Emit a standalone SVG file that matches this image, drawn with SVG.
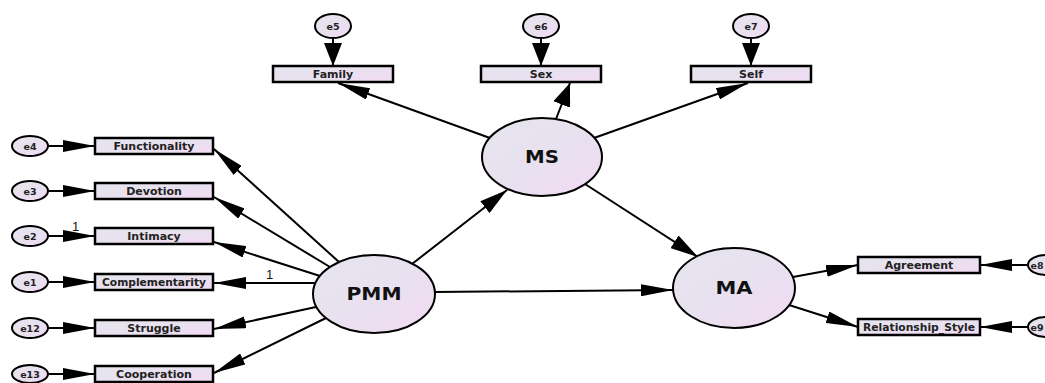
<svg xmlns="http://www.w3.org/2000/svg" width="1045" height="383" viewBox="0 0 1045 383">
<defs>
<linearGradient id="fill" x1="0" y1="0" x2="1" y2="1">
<stop offset="0" stop-color="#e5e5ee"/>
<stop offset="0.5" stop-color="#e8e1ef"/>
<stop offset="1" stop-color="#f2daf3"/>
</linearGradient>
<marker id="mh" markerUnits="userSpaceOnUse" markerWidth="32" markerHeight="12" refX="32" refY="6" orient="auto"><path d="M0,0 L32,6 L0,12 z" fill="#000"/></marker>
<marker id="md" markerUnits="userSpaceOnUse" markerWidth="28" markerHeight="15" refX="28" refY="7.5" orient="auto"><path d="M0,0 L28,7.5 L0,15 z" fill="#000"/></marker>
<marker id="mv" markerUnits="userSpaceOnUse" markerWidth="23" markerHeight="18" refX="23" refY="9" orient="auto"><path d="M0,0 L23,9 L0,18 z" fill="#000"/></marker>
<style>
.box{fill:url(#fill);stroke:#000;stroke-width:2.5}
.lat{fill:url(#fill);stroke:#000;stroke-width:2}
.err{fill:url(#fill);stroke:#000;stroke-width:2}
.bt{font-family:"DejaVu Sans",sans-serif;font-weight:bold;font-size:11px;text-anchor:middle;fill:#222}
.lt{font-family:"DejaVu Sans",sans-serif;font-weight:bold;font-size:17px;text-anchor:middle;fill:#111}
.et{font-family:"DejaVu Sans",sans-serif;font-weight:bold;font-size:9.5px;text-anchor:middle;fill:#222}
.one{font-family:"Liberation Sans",Arial,sans-serif;font-size:13px;fill:#111}
.c{stroke:#000;stroke-width:2;fill:none}
.ch{marker-end:url(#mh)}
.cd{marker-end:url(#md)}
.cv{marker-end:url(#mv)}
</style>
</defs>

<g id="connectors">
<line class="c ch" x1="48" y1="146" x2="95" y2="146"/>
<line class="c ch" x1="48" y1="191" x2="95" y2="191"/>
<line class="c ch" x1="48" y1="236" x2="95" y2="236"/>
<line class="c ch" x1="48" y1="282" x2="95" y2="282"/>
<line class="c ch" x1="48" y1="328" x2="95" y2="328"/>
<line class="c ch" x1="48" y1="374" x2="95" y2="374"/>
<line class="c cv" x1="333" y1="38" x2="333" y2="66"/>
<line class="c cv" x1="541" y1="38" x2="541" y2="66"/>
<line class="c cv" x1="751" y1="38" x2="751" y2="66"/>
<line class="c ch" x1="1028" y1="265" x2="980" y2="265"/>
<line class="c ch" x1="1028" y1="327" x2="980" y2="327"/>
<line class="c ch" x1="339" y1="262" x2="214" y2="149"/>
<line class="c ch" x1="330" y1="267" x2="214" y2="197"/>
<line class="c ch" x1="320" y1="276" x2="214" y2="242"/>
<line class="c ch" x1="316" y1="283" x2="214" y2="283"/>
<line class="c ch" x1="316" y1="307" x2="214" y2="329"/>
<line class="c ch" x1="326" y1="318" x2="214" y2="373"/>
<line class="c cd" x1="412" y1="264" x2="507" y2="190"/>
<line class="c ch" x1="435" y1="292" x2="673" y2="290"/>
<line class="c ch" x1="490" y1="138" x2="338" y2="83"/>
<line class="c cv" x1="556" y1="119" x2="570" y2="83"/>
<line class="c ch" x1="594" y1="138" x2="748" y2="83"/>
<line class="c cd" x1="585" y1="184" x2="698" y2="257"/>
<line class="c ch" x1="793" y1="277" x2="858" y2="265"/>
<line class="c ch" x1="789" y1="305" x2="858" y2="327"/>
<text class="one" x="72" y="231">1</text>
<text class="one" x="266" y="279">1</text>
</g>

<g id="PMM"><ellipse class="lat" cx="374" cy="294" rx="61" ry="39"/><text class="lt" x="374" y="300" textLength="55" lengthAdjust="spacingAndGlyphs">PMM</text></g>
<g id="MS"><ellipse class="lat" cx="542" cy="157" rx="60" ry="39"/><text class="lt" x="542" y="163" textLength="34" lengthAdjust="spacingAndGlyphs">MS</text></g>
<g id="MA"><ellipse class="lat" cx="734" cy="288" rx="61" ry="40"/><text class="lt" x="734" y="294" textLength="37" lengthAdjust="spacingAndGlyphs">MA</text></g>

<g id="Functionality"><rect class="box" x="95" y="138" width="118" height="16"/><text class="bt" x="154" y="150">Functionality</text></g>
<g id="Devotion"><rect class="box" x="95" y="183" width="118" height="16"/><text class="bt" x="154" y="195">Devotion</text></g>
<g id="Intimacy"><rect class="box" x="95" y="228" width="118" height="16"/><text class="bt" x="154" y="240">Intimacy</text></g>
<g id="Complementarity"><rect class="box" x="95" y="274" width="118" height="16"/><text class="bt" x="154" y="286" textLength="104" lengthAdjust="spacingAndGlyphs">Complementarity</text></g>
<g id="Struggle"><rect class="box" x="95" y="320" width="118" height="16"/><text class="bt" x="154" y="332">Struggle</text></g>
<g id="Cooperation"><rect class="box" x="95" y="366" width="118" height="16"/><text class="bt" x="154" y="378">Cooperation</text></g>
<g id="Family"><rect class="box" x="273" y="66" width="120" height="16"/><text class="bt" x="333" y="78">Family</text></g>
<g id="Sex"><rect class="box" x="481" y="66" width="120" height="16"/><text class="bt" x="541" y="78">Sex</text></g>
<g id="Self"><rect class="box" x="691" y="66" width="120" height="16"/><text class="bt" x="751" y="78">Self</text></g>
<g id="Agreement"><rect class="box" x="858" y="257" width="122" height="16"/><text class="bt" x="919" y="269">Agreement</text></g>
<g id="Relationship_Style"><rect class="box" x="858" y="319" width="122" height="16"/><text class="bt" x="919" y="331" textLength="112" lengthAdjust="spacingAndGlyphs">Relationship_Style</text></g>

<g id="e4"><ellipse class="err" cx="30" cy="146" rx="18" ry="10"/><text class="et" x="30" y="149.5">e4</text></g>
<g id="e3"><ellipse class="err" cx="30" cy="191" rx="18" ry="10"/><text class="et" x="30" y="194.5">e3</text></g>
<g id="e2"><ellipse class="err" cx="30" cy="236" rx="18" ry="10"/><text class="et" x="30" y="239.5">e2</text></g>
<g id="e1"><ellipse class="err" cx="30" cy="282" rx="18" ry="10"/><text class="et" x="30" y="285.5">e1</text></g>
<g id="e12"><ellipse class="err" cx="30" cy="328" rx="18" ry="10"/><text class="et" x="30" y="331.5">e12</text></g>
<g id="e13"><ellipse class="err" cx="30" cy="374" rx="18" ry="9"/><text class="et" x="30" y="377.5">e13</text></g>
<g id="e5"><ellipse class="err" cx="333" cy="26" rx="18" ry="12"/><text class="et" x="333" y="29.5">e5</text></g>
<g id="e6"><ellipse class="err" cx="541" cy="26" rx="18" ry="12"/><text class="et" x="541" y="29.5">e6</text></g>
<g id="e7"><ellipse class="err" cx="751" cy="26" rx="18" ry="12"/><text class="et" x="751" y="29.5">e7</text></g>
<g id="e8"><ellipse class="err" cx="1046" cy="265" rx="18" ry="10"/><text class="et" x="1037" y="268.5">e8</text></g>
<g id="e9"><ellipse class="err" cx="1046" cy="327" rx="18" ry="10"/><text class="et" x="1037" y="330.5">e9</text></g>
</svg>
